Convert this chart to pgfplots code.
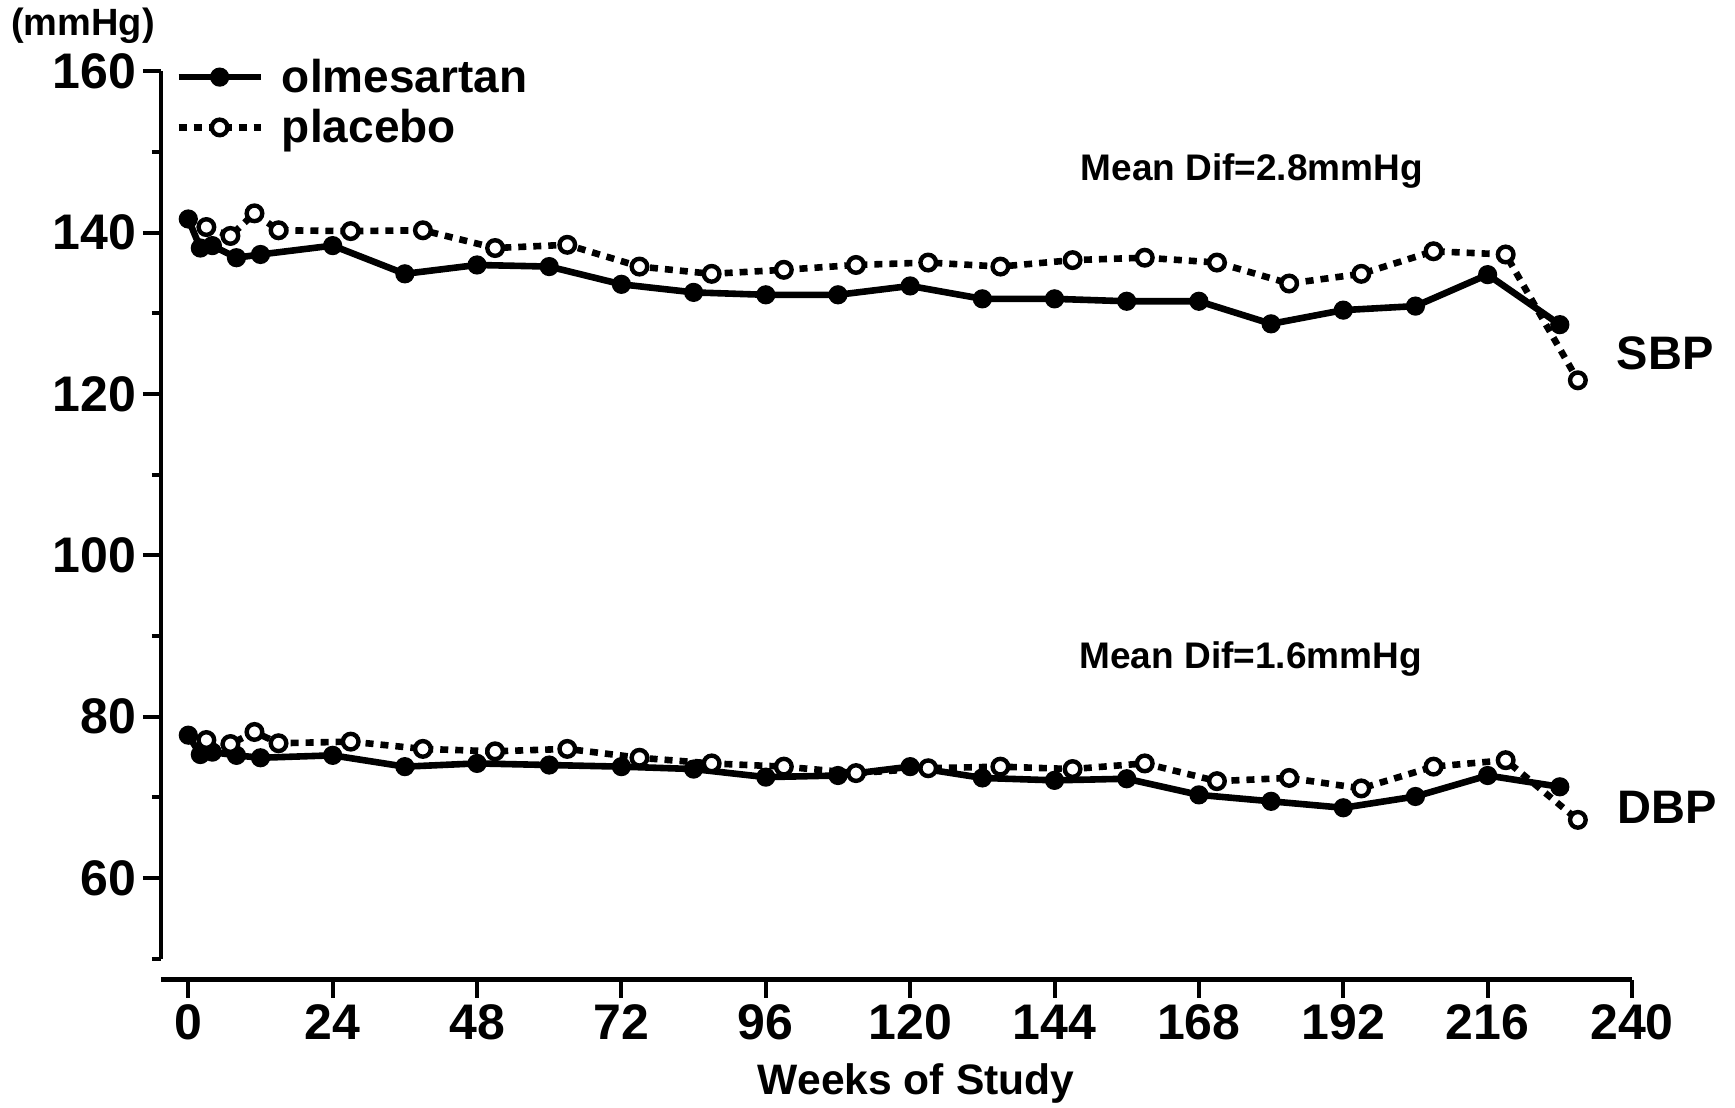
\documentclass[border=0pt]{standalone}
\usepackage{fontspec}
\setmainfont{Liberation Sans}
\usepackage{pgfplots}
\pgfplotsset{compat=1.18}
\pgfplotstableread{
w v
0 141.7
2 138.1
4 138.4
8 136.9
12 137.3
24 138.4
36 134.9
48 136.0
60 135.8
72 133.6
84 132.6
96 132.3
108 132.3
120 133.4
132 131.8
144 131.8
156 131.5
168 131.5
180 128.7
192 130.4
204 130.9
216 134.8
228 128.6
}\olmsbp
\pgfplotstableread{
w v
3 140.7
7 139.6
11 142.4
15 140.3
27 140.2
39 140.3
51 138.1
63 138.5
75 135.8
87 134.9
99 135.4
111 136.0
123 136.3
135 135.8
147 136.6
159 136.9
171 136.3
183 133.7
195 134.9
207 137.7
219 137.3
231 121.7
}\plasbp
\pgfplotstableread{
w v
0 77.7
2 75.3
4 75.6
8 75.2
12 74.9
24 75.2
36 73.8
48 74.2
60 74.0
72 73.8
84 73.5
96 72.5
108 72.7
120 73.8
132 72.4
144 72.1
156 72.3
168 70.3
180 69.5
192 68.7
204 70.1
216 72.7
228 71.3
}\olmdbp
\pgfplotstableread{
w v
3 77.1
7 76.6
11 78.1
15 76.7
27 76.9
39 76.0
51 75.7
63 76.0
75 74.9
87 74.2
99 73.8
111 73.0
123 73.6
135 73.8
147 73.5
159 74.2
171 72.0
183 72.4
195 71.1
207 73.8
219 74.6
231 67.2
}\pladbp
\begin{document}
\begin{tikzpicture}
\useasboundingbox (-80.5pt,-74.7pt) rectangle (787pt,479.3pt);
\begin{axis}[
  at={(0,0)}, anchor=south west,
  scale only axis, width=735.5pt, height=443.6pt,
  xmin=-4.54, xmax=240, ymin=50, ymax=160,
  axis x line*=bottom, axis y line*=left,
  axis x line shift=10.5pt,
  axis line style={line width=2.3pt},
  xtick={0,24,...,240}, ytick={60,80,...,160},
  minor ytick={50,70,...,150},
  tick align=outside,
  major tick length=9pt, minor tick length=4.5pt,
  every tick/.style={line width=2pt, black},
  ticklabel style={font=\fontsize{25}{30}\selectfont\bfseries},
  /pgf/number format/assume math mode=true,
  clip=false,
  legend style={draw=none, fill=none, at={(0.0095,0.9652)}, anchor=west,
    inner xsep=0pt, inner ysep=0pt, font=\fontsize{23}{27}\selectfont\bfseries,
    /tikz/column sep=7pt, /tikz/row sep=3pt},
  legend cell align=left,
  legend image code/.code={\draw[mark repeat=2,mark phase=2,#1] plot coordinates {(0pt,0pt) (20.5pt,0pt) (41pt,0pt)};},
  olm/.style={black, line width=3.3pt, mark=*, mark size=4.3pt, mark options={solid, fill=black, line width=1pt}},
  pla/.style={black, line width=3.3pt, dash pattern=on 4pt off 3.5pt, mark=*, mark size=3.9pt, mark options={solid, fill=white, draw=black, line width=2.2pt}},
]
\addplot[olm] table[x=w,y=v] {\olmsbp};
\addlegendentry{olmesartan}
\addplot[pla] table[x=w,y=v] {\plasbp};
\addlegendentry{placebo}
\addplot[olm, forget plot] table[x=w,y=v] {\olmdbp};
\addplot[pla, forget plot] table[x=w,y=v] {\pladbp};
\node[font=\fontsize{18.5}{22}\selectfont\bfseries] at (axis cs:176.8,147.6) {Mean Dif=2.8mmHg};
\node[font=\fontsize{18.5}{22}\selectfont\bfseries] at (axis cs:176.6,87.2) {Mean Dif=1.6mmHg};
\node[font=\fontsize{23.5}{28}\selectfont\bfseries] at (axis cs:245.5,125.0) {SBP};
\node[font=\fontsize{23.5}{28}\selectfont\bfseries] at (axis cs:245.8,68.7) {DBP};
\node[font=\fontsize{19}{23}\selectfont\bfseries] at (axis cs:-17.5,165.6) {(mmHg)};
\node[anchor=base, font=\fontsize{21.3}{26}\selectfont\bfseries] at (axis cs:121,33.2) {Weeks of Study};
\end{axis}
\end{tikzpicture}
\end{document}
